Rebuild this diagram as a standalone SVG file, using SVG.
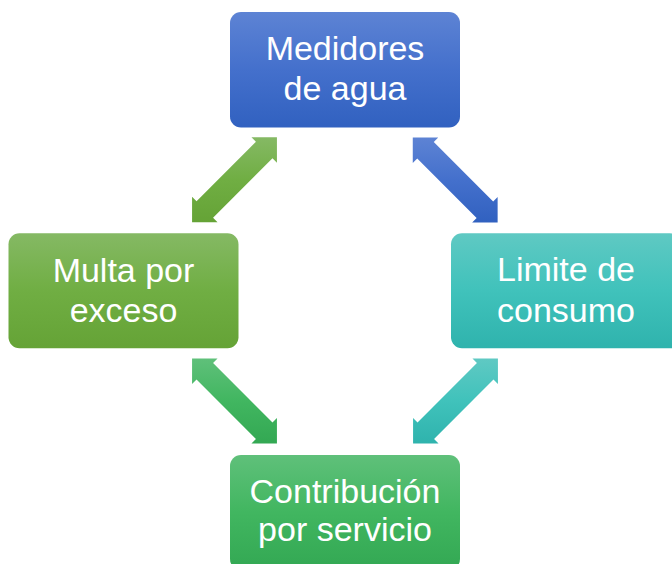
<svg xmlns="http://www.w3.org/2000/svg" width="672" height="564" viewBox="0 0 672 564">
  <defs>
    <linearGradient id="gBlue" x1="0" y1="0" x2="0" y2="1">
      <stop offset="0" stop-color="#5d83d4"/>
      <stop offset="0.5" stop-color="#4470cc"/>
      <stop offset="1" stop-color="#3161c0"/>
    </linearGradient>
    <linearGradient id="gTeal" x1="0" y1="0" x2="0" y2="1">
      <stop offset="0" stop-color="#5fc9c3"/>
      <stop offset="0.5" stop-color="#40c2bb"/>
      <stop offset="1" stop-color="#2fb3ad"/>
    </linearGradient>
    <linearGradient id="gLeaf" x1="0" y1="0" x2="0" y2="1">
      <stop offset="0" stop-color="#85b964"/>
      <stop offset="0.5" stop-color="#70ae43"/>
      <stop offset="1" stop-color="#65a336"/>
    </linearGradient>
    <linearGradient id="gGreen" x1="0" y1="0" x2="0" y2="1">
      <stop offset="0" stop-color="#5fc07a"/>
      <stop offset="0.5" stop-color="#41b660"/>
      <stop offset="1" stop-color="#33a853"/>
    </linearGradient>
    <!-- double arrow, axis from bottom-left to top-right -->
    <path id="arrowNE" d="M -42.43,42.43 L -42.43,16.97 L -37.97,21.43 L 21.43,-37.97 L 16.97,-42.43 L 42.43,-42.43 L 42.43,-16.97 L 37.97,-21.43 L -21.43,37.97 L -16.97,42.43 Z"/>
    <!-- double arrow, axis from top-left to bottom-right -->
    <path id="arrowSE" d="M -42.43,-42.43 L -16.97,-42.43 L -21.43,-37.97 L 37.97,21.43 L 42.43,16.97 L 42.43,42.43 L 16.97,42.43 L 21.43,37.97 L -37.97,-21.43 L -42.43,-16.97 Z"/>
  </defs>
  <style>
    .lbl { font-family: "Liberation Sans", Arial, sans-serif; font-size: 34px; fill: #ffffff; text-anchor: middle; }
  </style>

  <g id="connectors">
    <use id="arrow-top-left" href="#arrowNE" x="234.5" y="179.8" fill="url(#gLeaf)"/>
    <use id="arrow-top-right" href="#arrowSE" x="455.2" y="180" fill="url(#gBlue)"/>
    <use id="arrow-bottom-left" href="#arrowSE" x="234.5" y="401" fill="url(#gGreen)"/>
    <use id="arrow-bottom-right" href="#arrowNE" x="455.5" y="401" fill="url(#gTeal)"/>
  </g>

  <g id="node-medidores">
    <rect x="230" y="12" width="230" height="115.5" rx="11" ry="11" fill="url(#gBlue)"/>
    <text class="lbl" x="345" y="60">Medidores</text>
    <text class="lbl" x="345" y="100">de agua</text>
  </g>

  <g id="node-limite">
    <rect x="451" y="233.3" width="230" height="115" rx="11" ry="11" fill="url(#gTeal)"/>
    <text class="lbl" x="566" y="281">Limite de</text>
    <text class="lbl" x="566" y="321.5">consumo</text>
  </g>

  <g id="node-multa">
    <rect x="8.5" y="233.3" width="230" height="115" rx="11" ry="11" fill="url(#gLeaf)"/>
    <text class="lbl" x="123.5" y="281.5">Multa por</text>
    <text class="lbl" x="123.5" y="321.5">exceso</text>
  </g>

  <g id="node-contribucion">
    <rect x="230" y="455" width="230" height="115" rx="11" ry="11" fill="url(#gGreen)"/>
    <text class="lbl" x="345" y="503">Contribución</text>
    <text class="lbl" x="345" y="541">por servicio</text>
  </g>
</svg>
